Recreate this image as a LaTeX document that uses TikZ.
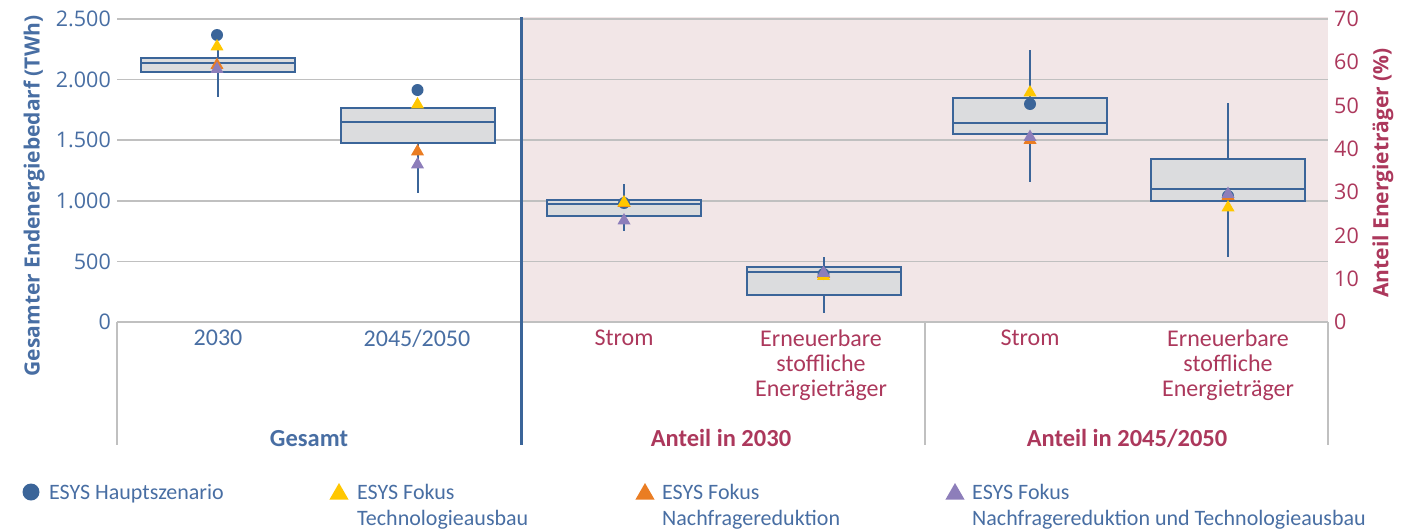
\documentclass[tikz,border=0pt]{standalone}
\usepackage{fontspec}
\setmainfont{Carlito}
\newfontfamily\ticksfont{Open Sans}
\usetikzlibrary{shapes.geometric}
\definecolor{esysblue}{RGB}{59,101,153}
\definecolor{esystext}{RGB}{72,110,163}
\definecolor{esysred}{RGB}{172,56,92}
\definecolor{esyspink}{RGB}{242,230,231}
\definecolor{boxgray}{RGB}{219,220,222}
\definecolor{gridgray}{RGB}{192,192,192}
\definecolor{mkyellow}{RGB}{255,199,0}
\definecolor{mkorange}{RGB}{234,125,35}
\definecolor{mkpurple}{RGB}{141,126,186}
\tikzset{
x=1pt, y=-1pt, % one unit is one pixel of the reference, y points down
gridline/.style={gridgray, line width=1.6pt}, % horizontal grid and category lines
whisker/.style={esysblue, line width=2pt},
boxbar/.style={draw=esysblue, fill=boxgray, line width=2pt},
mdot/.style={circle, fill=esysblue, inner sep=0pt, minimum size=12pt},
mtri/.style={regular polygon, regular polygon sides=3, inner sep=0pt, minimum size=15pt},
ticklabel/.style={font=\ticksfont\fontsize{21.5}{24}\selectfont, inner sep=0pt},
axistitle/.style={font=\ticksfont\bfseries\fontsize{21}{24}\selectfont, rotate=90, inner sep=0pt},
catlabel/.style={font=\fontsize{24}{25}\selectfont, align=center, inner sep=0pt, anchor=north},
grplabel/.style={font=\bfseries\fontsize{24.5}{25}\selectfont, inner sep=0pt, anchor=base},
legtext/.style={font=\fontsize{22}{25.5}\selectfont, align=left, inner sep=0pt, anchor=north west, text=esystext},
}

\begin{document}
\begin{tikzpicture}
    \useasboundingbox (0,0) rectangle (1413,530);
    % shaded part for the shares
    \fill[esyspink] (521,17) rectangle (1328,322);
    % grid
    \foreach \gy in {19,79.6,140.2,200.8,261.4}
        \draw[gridline] (117,\gy) -- (1328,\gy);
    \draw[gridline] (117,322) -- (1328,322);
    \foreach \vx in {117,925,1328}
        \draw[gridline] (\vx,322) -- (\vx,445);
    \draw[esysblue, line width=3pt] (521,17) -- (521,445);

    % left axis
    \foreach \val [count=\i from 0] in {0,500,1.000,1.500,2.000,2.500}
        \node[ticklabel, anchor=east, text=esystext] (yl\i) at (111,322-60.6*\i) {\val};
    % right axis
    \foreach \val [count=\i from 0] in {0,10,20,30,40,50,60,70}
        \node[ticklabel, anchor=west, text=esysred] (yr\i) at (1334,322-43.29*\i) {\val};
    \node[axistitle, text=esystext] (ytitle) at (34,196) {Gesamter Endenergiebedarf (TWh)};
    \node[axistitle, text=esysred] (rtitle) at (1383,173) {Anteil Energieträger (\%)};

    % boxes: centre / upper quartile / median / lower quartile / whisker top / whisker bottom
    \foreach \cx/\qt/\md/\qb/\wt/\wb [count=\i] in {
        217.5/57.5/63/72/45/97,
        417.5/108/122/143/102/193,
        624/200/204/216/184/231,
        823.5/267/272/295/257/313,
        1030/98/123/134/50/182,
        1228/159/189/201/103/257}
    {
        \draw[whisker] (\cx,\wt) -- (\cx,\wb);
        \draw[boxbar] (\cx-77,\qt) rectangle (\cx+77,\qb);
        \draw[whisker] (\cx-77,\md) -- (\cx+77,\md);
    }

    % scenario markers: centre / dot / orange / yellow / purple
    \foreach \cx/\dy/\oy/\yy/\py [count=\i] in {
        217/35/65/46.5/69,
        417.5/90/151.5/104.5/164.5,
        624/203/203/202.5/220.5,
        823.5/274/274/276/273,
        1030/104/140/92.5/137,
        1228/196/196/207.5/194}
    {
        \node[mdot] (hs\i) at (\cx,\dy) {};
        \node[mtri, fill=mkorange] (nr\i) at (\cx,\oy) {};
        \node[mtri, fill=mkyellow] (ta\i) at (\cx,\yy) {};
        \node[mtri, fill=mkpurple] (nt\i) at (\cx,\py) {};
    }

    % category labels
    \node[catlabel, text=esystext] (c2030) at (218,330) {2030};
    \node[catlabel, text=esystext] (c2050) at (417,330) {2045/2050};
    \node[catlabel, text=esysred] (strom1) at (624,330) {Strom};
    \node[catlabel, text=esysred] (ee1) at (821,330) {Erneuerbare\\stoffliche\\Energieträger};
    \node[catlabel, text=esysred] (strom2) at (1030,330) {Strom};
    \node[catlabel, text=esysred] (ee2) at (1228,330) {Erneuerbare\\stoffliche\\Energieträger};
    \node[grplabel, text=esystext] (gesamt) at (309,446) {Gesamt};
    \node[grplabel, text=esysred] (a2030) at (721,446) {Anteil in 2030};
    \node[grplabel, text=esysred] (a2050) at (1127,446) {Anteil in 2045/2050};

    % legend
    \node[mdot, minimum size=17pt] (lhs) at (31,492) {};
    \node[legtext] (ths) at (49,484.5) {ESYS Hauptszenario};
    \node[mtri, minimum size=22pt, fill=mkyellow] (lta) at (339,494) {};
    \node[legtext] (tta) at (357,484.5) {ESYS Fokus\\Technologieausbau};
    \node[mtri, minimum size=22pt, fill=mkorange] (lnr) at (645,494) {};
    \node[legtext] (tnr) at (662,484.5) {ESYS Fokus\\Nachfragereduktion};
    \node[mtri, minimum size=22pt, fill=mkpurple] (lnt) at (955,494) {};
    \node[legtext] (tnt) at (972,484.5) {ESYS Fokus\\Nachfragereduktion und Technologieausbau};
\end{tikzpicture}
\end{document}
